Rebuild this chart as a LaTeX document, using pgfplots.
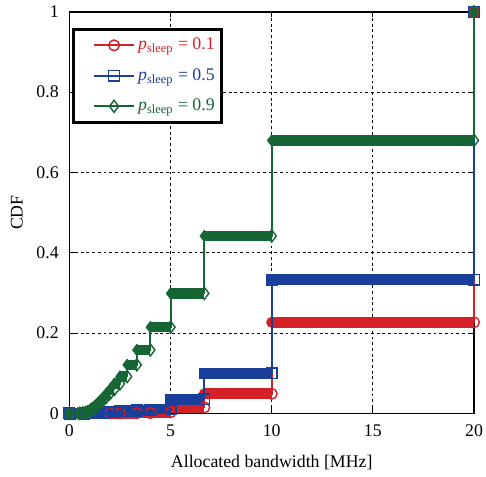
\documentclass[border=0pt]{standalone}
\usepackage{fontspec}
\setmainfont{Liberation Serif}
\usepackage{pgfplots}
\usepackage{pgfplotstable}
\pgfplotsset{compat=1.18}

\definecolor{cred}{RGB}{212,32,39}
\definecolor{cblue}{RGB}{25,62,155}
\definecolor{cgreen}{RGB}{22,101,52}

% x = allocated bandwidth, y = CDF level of the step ending at x, em = length of that step
\pgfplotstableread{
x      y       em
0      0       0
2.0    0.0     1.0
2.5    0.0     0.5
3.333  0.0005  0.833
4      0.001   0.667
5      0.003   1
6.667  0.015   1.667
10     0.049   3.333
20     0.227   10
20     1       0
}\reddata

\pgfplotstableread{
x      y       em
0      0       0
0.833  0.0     0.1
1.0    0.0005  0.167
1.25   0.001   0.25
1.429  0.0015  0.179
1.667  0.002   0.238
2.0    0.003   0.333
2.222  0.004   0.222
2.5    0.005   0.278
2.857  0.006   0.357
3.333  0.007   0.476
4      0.009   0.667
5      0.011   1
6.667  0.035   1.667
10     0.100   3.333
20     0.333   10
20     1       0
}\bluedata

\pgfplotstableread{
x      y       em
0      0       0
0.5    0.0     0.1
0.667  0.001   0.167
0.8    0.002   0.133
0.909  0.004   0.109
1.0    0.006   0.091
1.053  0.008   0.053
1.111  0.010   0.058
1.176  0.012   0.065
1.25   0.015   0.074
1.333  0.018   0.083
1.429  0.022   0.095
1.538  0.027   0.110
1.667  0.033   0.128
1.818  0.040   0.152
2.0    0.049   0.182
2.222  0.060   0.222
2.5    0.074   0.278
2.857  0.092   0.357
3.333  0.121   0.476
4      0.158   0.667
5      0.215   1
6.667  0.299   1.667
10     0.442   3.333
20     0.680   10
20     1       0
}\greendata

\begin{document}
\begin{tikzpicture}
\begin{axis}[
    scale only axis, width=226.7bp, height=225bp,
    xmin=0, xmax=20, ymin=0, ymax=1,
    xtick={0,5,10,15,20}, ytick={0,0.2,0.4,0.6,0.8,1},
    xticklabels={0,5,10,15,20},
    yticklabels={0,0.2,0.4,0.6,0.8,1},
    xticklabel style={yshift=-3bp, inner xsep=0pt}, yticklabel style={xshift=-2.5bp},
    grid=major, grid style={black, line width=0.5pt, dash pattern=on 1.6pt off 1.6pt},
    axis line style={line width=1pt},
    tick align=inside, major tick length=3pt, tick style={black, line width=0.5pt},
    xlabel={Allocated bandwidth [MHz]}, ylabel={CDF},
    xlabel style={at={(rel axis cs:0.5,-0.121)}, anchor=center},
    ylabel style={at={(rel axis cs:-0.13,0.5)}, anchor=center},
    clip=false,
    legend cell align=left,
    legend image code/.code={\path (-9bp,0bp);\draw[mark repeat=2,mark phase=2,#1]
        plot coordinates {(0bp,0bp) (11bp,0bp) (22bp,0bp)};},
    legend style={at={(rel axis cs:0.0074,0.9605)}, anchor=north west,
        draw=black, line width=1.6pt, inner xsep=2pt, inner ysep=3pt,
        row sep=5pt, font=\normalsize},
]
\addlegendimage{cred, line width=1.1pt, mark=o, mark size=3pt, mark options={fill=white, line width=0.8pt}}
\addlegendentry{\textcolor{cred}{\textit{p}\textsubscript{sleep} = 0.1}}
\addlegendimage{cblue, line width=1.1pt, mark=square, mark size=3pt, mark options={fill=white, line width=0.8pt}}
\addlegendentry{\textcolor{cblue}{\textit{p}\textsubscript{sleep} = 0.5}}
\addlegendimage{cgreen, line width=1.1pt, mark=diamond, mark size=3.4pt, mark options={fill=white, line width=0.8pt}}
\addlegendentry{\textcolor{cgreen}{\textit{p}\textsubscript{sleep} = 0.9}}

\addplot[forget plot, cred, line width=1.1pt, const plot mark right,
    mark=o, mark size=3pt, mark options={fill=white, line width=0.8pt},
    error bars/.cd, x dir=minus, x explicit,
    error bar style={cred, line width=6pt},
    error mark=*, error mark options={cred, fill=cred, mark size=3pt, line width=0.2pt}]
    table[x=x, y=y, x error minus=em] {\reddata};
\addplot[forget plot, cblue, line width=1.1pt, const plot mark right,
    mark=square, mark size=3pt, mark options={fill=white, line width=0.8pt},
    error bars/.cd, x dir=minus, x explicit,
    error bar style={cblue, line width=6pt},
    error mark=square*, error mark options={cblue, fill=cblue, mark size=3pt, line width=0.2pt}]
    table[x=x, y=y, x error minus=em] {\bluedata};
\addplot[forget plot, cgreen, line width=1.1pt, const plot mark right,
    mark=diamond, mark size=3.4pt, mark options={fill=white, line width=0.8pt},
    error bars/.cd, x dir=minus, x explicit,
    error bar style={cgreen, line width=6pt},
    error mark=diamond*, error mark options={cgreen, fill=cgreen, mark size=3.4pt, line width=0.2pt}]
    table[x=x, y=y, x error minus=em] {\greendata};
% page margins as in the reference
\path (rel axis cs:-0.1716,-0.158) rectangle (rel axis cs:1.0245,1.0296);
\end{axis}
\end{tikzpicture}
\end{document}
